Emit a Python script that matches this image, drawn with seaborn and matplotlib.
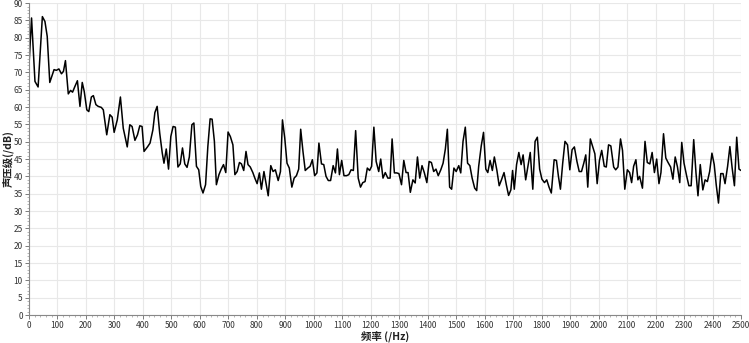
import matplotlib
matplotlib.use("Agg")
import matplotlib.pyplot as plt
from matplotlib.ticker import MultipleLocator
import seaborn as sns
import pandas as pd

freq_hz = [0, 9, 21, 32, 47, 56, 64, 73, 88, 96, 105, 114, 121, 128, 138, 146, 153, 161, 170,
           179, 187, 194, 203, 210, 219, 226, 235, 243, 254, 261, 273, 284, 292, 299, 310, 321,
           331, 345, 354, 362, 372, 381, 389, 397, 404, 416, 425, 435, 442, 450, 459, 468, 474,
           482, 490, 498, 506, 514, 523, 531, 539, 547, 555, 563, 572, 579, 588, 596, 603, 611,
           620, 628, 636, 643, 651, 658, 667, 675, 683, 691, 699, 707, 716, 723, 731, 739, 746,
           754, 762, 769, 777, 786, 793, 801, 809, 816, 825, 833, 840, 849, 857, 865, 875, 883,
           890, 898, 906, 914, 923, 931, 939, 947, 954, 962, 970, 979, 987, 995, 1003, 1011,
           1018, 1027, 1035, 1043, 1051, 1059, 1068, 1076, 1083, 1090, 1098, 1106, 1115, 1123,
           1131, 1139, 1147, 1156, 1164, 1172, 1180, 1188, 1196, 1203, 1211, 1219, 1228, 1235,
           1243, 1251, 1260, 1268, 1275, 1283, 1291, 1299, 1308, 1316, 1324, 1331, 1339, 1348,
           1356, 1364, 1372, 1380, 1388, 1397, 1405, 1413, 1421, 1429, 1437, 1446, 1454, 1462,
           1469, 1477, 1484, 1492, 1500, 1509, 1516, 1524, 1532, 1540, 1548, 1556, 1565, 1572,
           1579, 1588, 1596, 1604, 1611, 1619, 1627, 1634, 1643, 1651, 1659, 1668, 1676, 1684,
           1692, 1698, 1704, 1712, 1720, 1728, 1735, 1744, 1752, 1760, 1769, 1777, 1785, 1793,
           1801, 1810, 1818, 1826, 1834, 1844, 1852, 1859, 1866, 1874, 1882, 1891, 1899, 1907,
           1915, 1924, 1932, 1940, 1948, 1955, 1962, 1971, 1979, 1987, 1995, 2003, 2011, 2020,
           2027, 2035, 2043, 2053, 2060, 2068, 2077, 2084, 2092, 2101, 2109, 2116, 2123, 2131,
           2138, 2144, 2154, 2163, 2171, 2180, 2188, 2196, 2204, 2212, 2219, 2228, 2236, 2244,
           2253, 2261, 2269, 2277, 2285, 2292, 2300, 2309, 2317, 2325, 2334, 2342, 2349, 2357,
           2366, 2374, 2382, 2390, 2398, 2406, 2413, 2421, 2429, 2437, 2444, 2453, 2461, 2469,
           2477, 2485, 2493, 2500]

spl_db = [72.0, 85.7, 67.4, 65.8, 86.1, 84.7, 80.4, 67.1, 70.8, 70.6, 71.0, 69.6, 70.3, 73.4, 63.8,
          64.8, 64.3, 65.9, 67.6, 60.2, 67.1, 64.5, 59.2, 58.7, 62.9, 63.3, 60.7, 60.2, 59.9, 59.2,
          52.0, 57.8, 57.1, 52.7, 56.3, 62.9, 53.9, 48.5, 54.9, 54.4, 50.4, 52.0, 54.6, 54.4, 47.2,
          48.5, 49.6, 53.4, 58.4, 60.2, 52.5, 46.7, 43.8, 47.9, 42.1, 51.5, 54.4, 54.2, 42.7, 43.6,
          48.2, 43.6, 42.6, 45.6, 54.9, 55.4, 42.9, 41.9, 37.1, 35.2, 37.6, 48.6, 56.6, 56.5, 50.1,
          37.6, 40.5, 42.1, 43.4, 41.1, 52.8, 51.5, 49.1, 40.5, 41.4, 44.0, 43.6, 41.7, 47.2, 43.4,
          42.7, 41.1, 39.5, 37.9, 41.0, 36.3, 41.4, 37.6, 34.4, 43.1, 41.4, 41.9, 38.8, 41.4, 56.3,
          51.1, 43.8, 42.4, 36.9, 39.5, 40.2, 42.1, 53.6, 47.2, 41.7, 42.4, 42.9, 44.8, 40.2, 41.0,
          49.6, 43.6, 43.4, 40.0, 38.8, 38.8, 43.1, 41.0, 47.9, 40.5, 44.6, 40.2, 40.2, 40.5, 41.9,
          41.7, 53.2, 39.5, 36.9, 38.2, 38.5, 42.4, 41.7, 42.9, 54.2, 44.3, 41.4, 45.0, 39.5, 41.1,
          39.5, 39.5, 50.8, 41.0, 41.0, 40.8, 37.6, 44.6, 41.1, 41.1, 35.4, 39.0, 38.1, 45.6, 39.5,
          43.1, 41.1, 38.2, 44.3, 44.0, 41.4, 42.1, 40.2, 41.9, 43.8, 47.9, 53.6, 36.9, 36.3, 42.4,
          41.4, 43.1, 41.0, 50.1, 54.2, 43.8, 43.1, 39.5, 36.6, 35.9, 42.9, 48.8, 52.7, 42.1, 41.1,
          44.6, 41.7, 45.6, 41.7, 37.3, 39.0, 41.1, 37.6, 34.5, 36.1, 41.7, 36.3, 43.4, 46.9, 43.4,
          46.2, 39.0, 42.9, 46.9, 36.3, 50.1, 51.3, 42.1, 39.2, 38.2, 39.0, 36.9, 35.2, 44.8, 44.6,
          40.0, 36.3, 43.8, 50.1, 49.1, 41.9, 47.7, 48.5, 44.3, 41.4, 41.4, 43.8, 46.2, 36.9, 50.8,
          48.6, 46.5, 37.9, 44.6, 47.5, 42.9, 42.7, 49.1, 48.8, 42.7, 41.9, 42.7, 50.8, 47.5, 36.3,
          41.9, 41.1, 38.2, 42.9, 44.8, 39.0, 40.0, 36.6, 50.1, 44.0, 43.6, 46.9, 41.1, 45.0, 37.9,
          41.1, 52.3, 45.3, 44.0, 42.7, 39.2, 45.6, 42.7, 38.2, 49.8, 43.8, 40.2, 37.3, 37.3, 50.6,
          41.0, 34.4, 43.4, 36.1, 39.0, 38.5, 41.4, 46.7, 43.4, 37.6, 32.3, 40.8, 40.8, 37.9, 42.9,
          48.6, 42.4, 37.3, 51.3, 42.1, 41.7]

x_ticks = list(range(0, 2501, 100))
y_ticks = list(range(0, 91, 5))

n = min(len(freq_hz), len(spl_db))
df = pd.DataFrame({"freq": freq_hz[:n], "spl": spl_db[:n]})

sns.set_theme(style="white")
plt.rcParams["font.family"] = ["Noto Sans CJK SC", "DejaVu Sans"]

fig = plt.figure(figsize=(7.49, 3.43), dpi=100)
ax = fig.add_axes([0.0387, 0.0816, 0.9506, 0.9094])

sns.lineplot(data=df, x="freq", y="spl", sort=False, color="black", linewidth=1.1,
             ax=ax, estimator=None)

ax.set_xlim(0, 2500)
ax.set_ylim(0, 90)
ax.set_xticks(x_ticks)
ax.set_yticks(y_ticks)
ax.xaxis.set_minor_locator(MultipleLocator(20))
ax.yaxis.set_minor_locator(MultipleLocator(1))
ax.grid(True, which="major", color="#e8e8e8", linewidth=0.8)
ax.grid(False, which="minor")
ax.set_axisbelow(True)

for s in ["top", "right"]:
    ax.spines[s].set_visible(False)
for s in ["left", "bottom"]:
    ax.spines[s].set_color("#888888")
    ax.spines[s].set_linewidth(0.8)

ax.tick_params(axis="both", which="major", labelsize=6, length=3, width=0.6,
               color="#666666", labelcolor="#333333", pad=1.5, left=True, bottom=True)
ax.tick_params(axis="both", which="minor", length=1.5, width=0.5, color="#999999",
               left=True, bottom=True)

ax.set_xlabel("频率 (/Hz)", fontsize=7.5, fontweight="bold", color="#222222", va="center")
ax.set_ylabel("声压级(/dB)", fontsize=7.5, fontweight="bold", color="#222222", va="center")
ax.xaxis.set_label_coords(0.5, -0.068)
ax.yaxis.set_label_coords(-0.029, 0.5)

fig.savefig("out.png", dpi=100)
